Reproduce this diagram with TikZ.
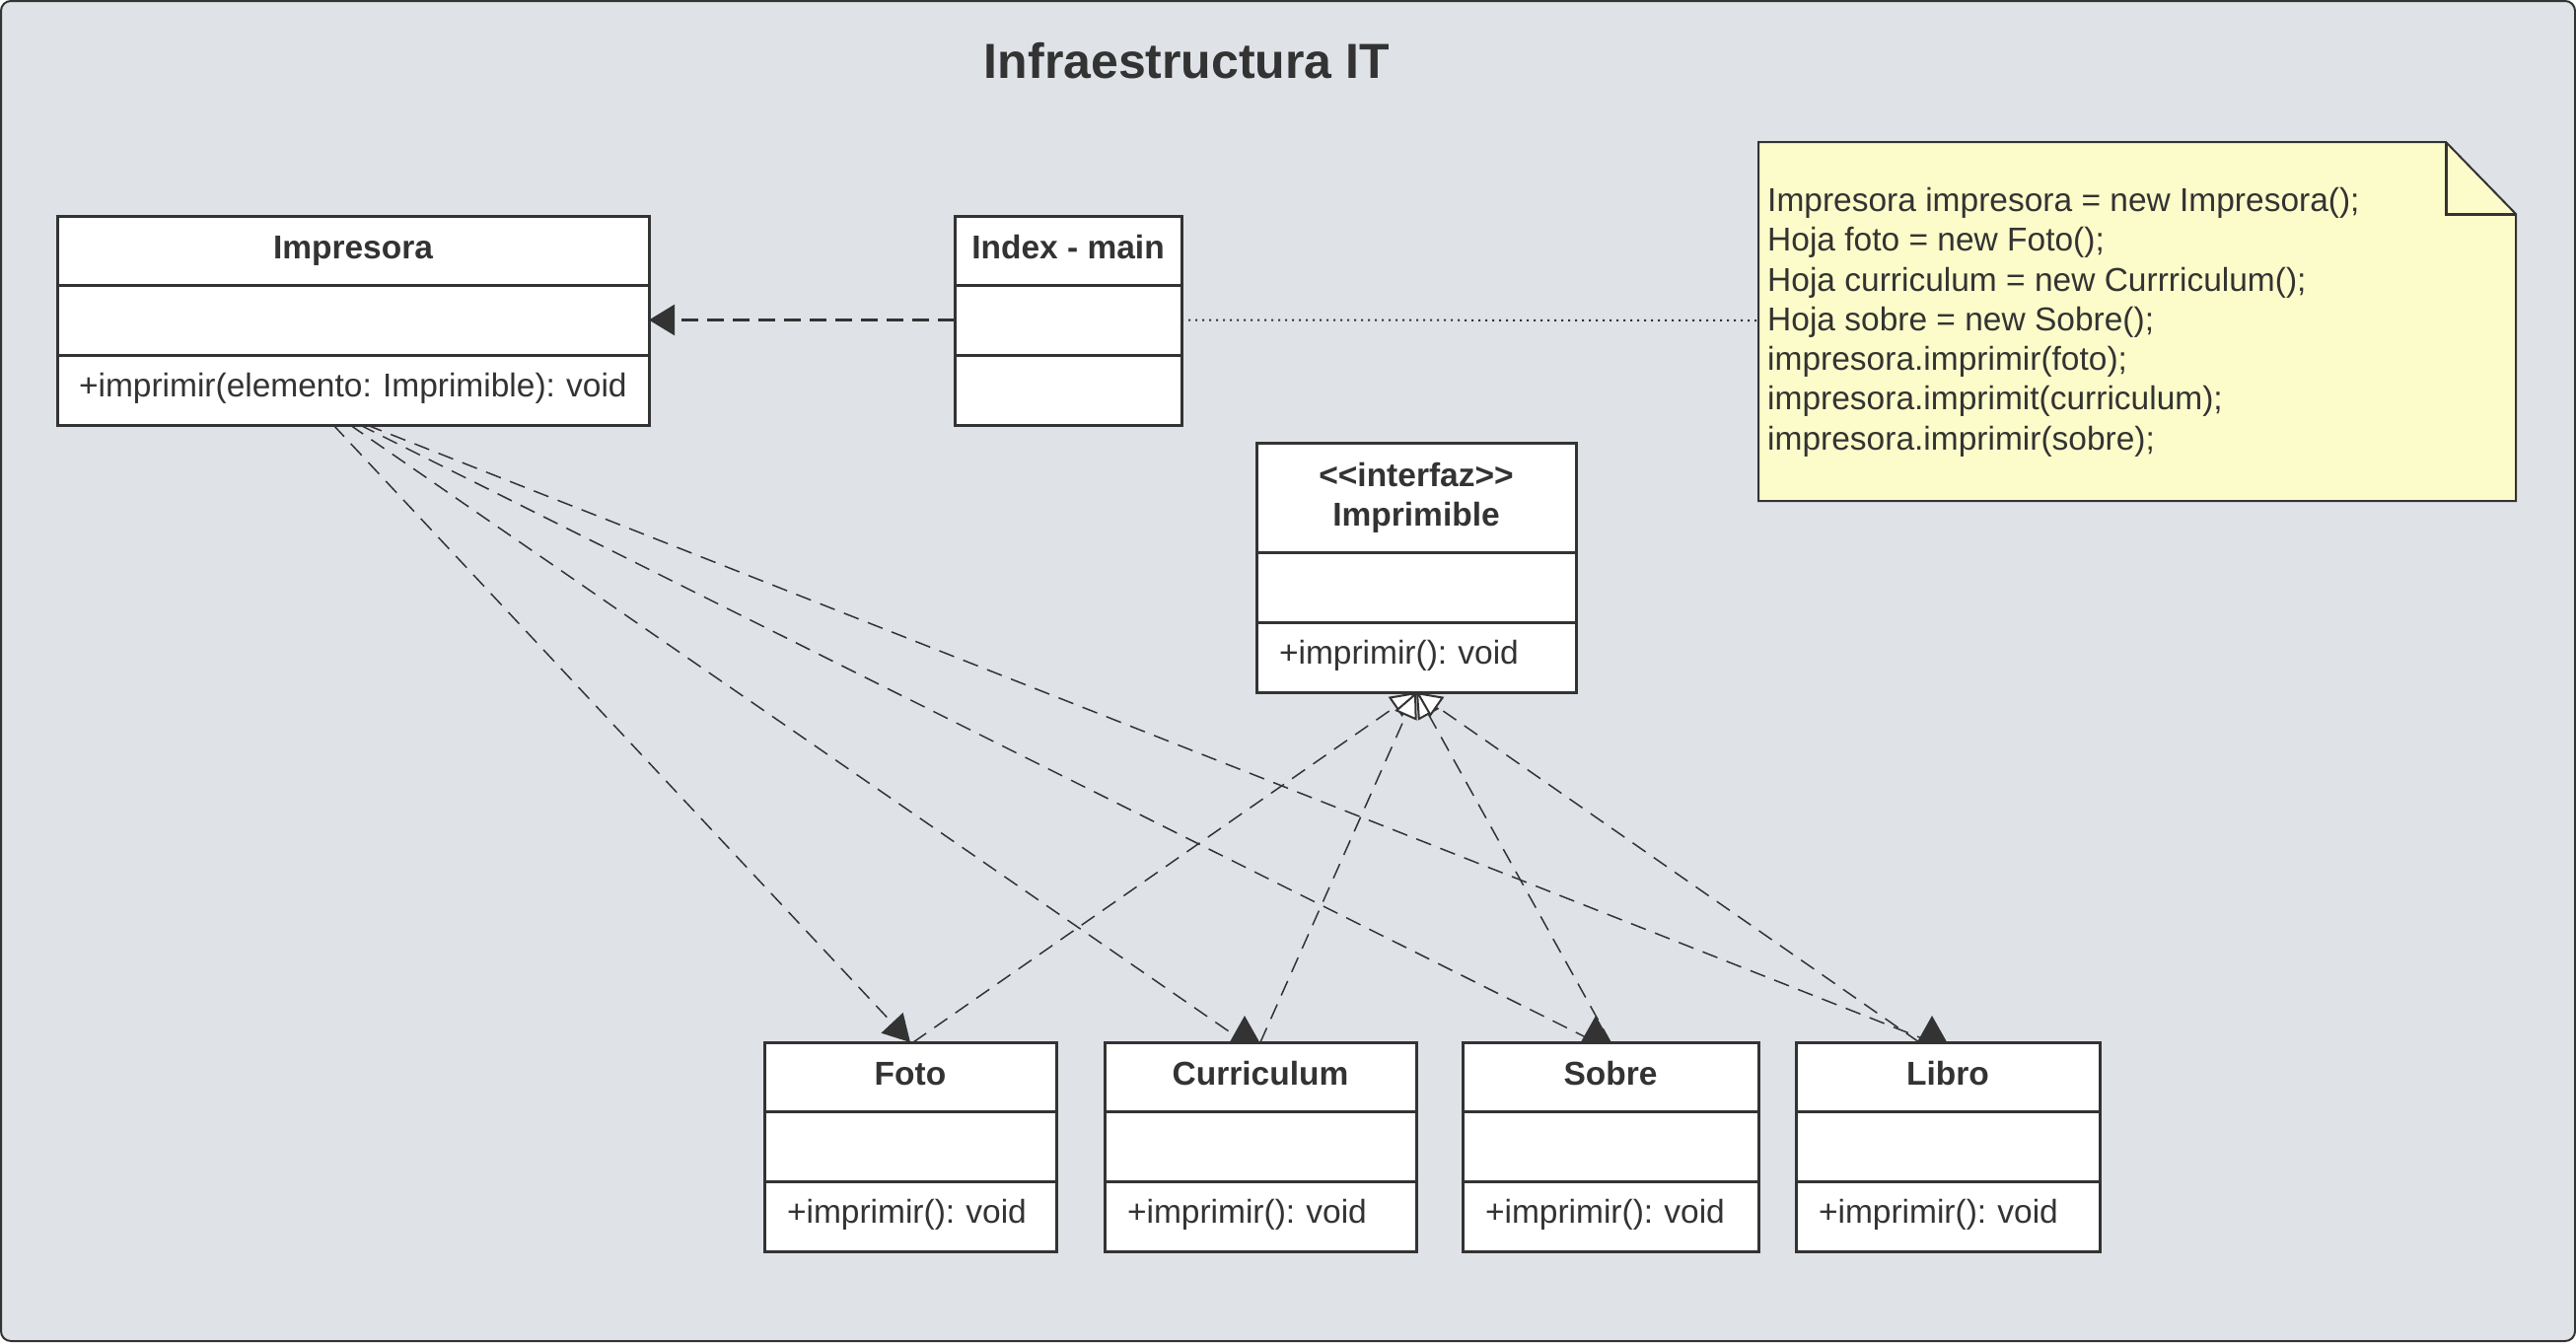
\documentclass[tikz,border=0pt]{standalone}
\usepackage{fontspec}
\usepackage{tikz}
\usetikzlibrary{arrows.meta}
\usetikzlibrary{positioning}

\newfontfamily\lucid{Liberation Sans}
\definecolor{fondo}{RGB}{223,227,232}
\definecolor{linea}{RGB}{51,51,51}
\definecolor{amarillo}{RGB}{252,252,202}

\tikzset{
  head/.style={draw=linea, line width=3pt, fill=white, text=linea, inner sep=0pt, outer sep=0pt,
    font=\lucid\fontsize{33.5}{40}\selectfont\bfseries, align=center,
    text height=24pt, text depth=8pt, minimum height=70pt, minimum width=#1},
  comp/.style={draw=linea, line width=3pt, fill=white, inner sep=0pt, outer sep=0pt,
    minimum height=71pt, minimum width=#1},
  meth/.style={draw=linea, line width=3pt, fill=white, text=linea, inner sep=0pt, outer sep=0pt,
    inner xsep=23pt, font=\lucid\fontsize{33.5}{40}\selectfont\frenchspacing, align=left,
    text height=24pt, text depth=10pt, minimum height=71pt, text width=#1},
  depende/.style={draw=linea, line width=1.5pt, dash pattern=on 16pt off 10pt,
    -{Triangle[length=27pt,width=30pt]}},
  realiza/.style={draw=linea, line width=1.5pt, dash pattern=on 16pt off 10pt,
    -{Triangle[length=26pt,width=24pt,fill=white,line width=2pt]}},
  uso/.style={draw=linea, line width=2.5pt, dash pattern=on 17pt off 9pt,
    -{Triangle[length=26pt,width=31pt]}},
  enlace/.style={draw=linea, line width=2pt, dash pattern=on 2pt off 5pt}
}

\begin{document}
\begin{tikzpicture}[x=1pt,y=1pt,yscale=-1,xscale=1]
    \useasboundingbox (0,0) rectangle (2612,1361);

    %Shape: Container
    \draw[draw=linea, line width=2pt, fill=fondo, rounded corners=10pt] (1,1) rectangle (2611,1360);

    % Text Node
    \node[anchor=base, text=linea, font=\lucid\fontsize{50}{60}\selectfont\bfseries] (titulo) at (1203.5,79) {Infraestructura IT};

    %Shape: Note
    \draw[draw=linea, line width=2pt, fill=amarillo] (1783,144) -- (2480,144) -- (2551,217) -- (2551,508) -- (1783,508) -- cycle;
    \draw[draw=linea, line width=3pt, line join=miter] (2480,144) -- (2480,217) -- (2551,217);
    % Text Node
    \node[anchor=north west, inner sep=0pt, align=left, text=linea, font=\lucid\fontsize{33.5}{40.3}\selectfont\frenchspacing] (nota) at (1792,190) {Impresora impresora = new Impresora();\\Hoja foto = new Foto();\\Hoja curriculum = new Currriculum();\\Hoja sobre = new Sobre();\\impresora.imprimir(foto);\\impresora.imprimit(curriculum);\\impresora.imprimir(sobre);};
    \coordinate (nota-borde) at (1783,325);

    %Class: Impresora
    \node[head=600pt, anchor=north west] (impresora) at (58,219) {Impresora};
    \node[comp=600pt, below=0pt of impresora] (impresora-a) {};
    \node[meth=562pt, inner xsep=19pt, below=0pt of impresora-a] (impresora-m) {\hspace*{3pt}+imprimir(elemento: Imprimible): void};

    %Class: Index - main
    \node[head=230pt, anchor=north west] (index) at (968,219) {Index - main};
    \node[comp=230pt, below=0pt of index] (index-a) {};
    \node[comp=230pt, below=0pt of index-a] (index-m) {};

    %Class: Imprimible
    \node[head=324pt, text height={}, text depth={}, minimum height=111pt, anchor=north west] (imprimible) at (1274,449) {<<interfaz>>\\Imprimible};
    \node[comp=324pt, below=0pt of imprimible] (imprimible-a) {};
    \node[meth=278pt, below=0pt of imprimible-a] (imprimible-m) {+imprimir(): void};

    %Class: Foto
    \node[head=296pt, anchor=north west] (foto) at (775,1057) {Foto};
    \node[comp=296pt, below=0pt of foto] (foto-a) {};
    \node[meth=250pt, below=0pt of foto-a] (foto-m) {+imprimir(): void};

    %Class: Curriculum
    \node[head=316pt, anchor=north west] (curriculum) at (1120,1057) {Curriculum};
    \node[comp=316pt, below=0pt of curriculum] (curriculum-a) {};
    \node[meth=270pt, below=0pt of curriculum-a] (curriculum-m) {+imprimir(): void};

    %Class: Sobre
    \node[head=300pt, anchor=north west] (sobre) at (1483,1057) {Sobre};
    \node[comp=300pt, below=0pt of sobre] (sobre-a) {};
    \node[meth=254pt, below=0pt of sobre-a] (sobre-m) {+imprimir(): void};

    %Class: Libro
    \node[head=308pt, anchor=north west] (libro) at (1821,1057) {Libro};
    \node[comp=308pt, below=0pt of libro] (libro-a) {};
    \node[meth=262pt, below=0pt of libro-a] (libro-m) {+imprimir(): void};

    %Lines: Index - main
    \draw[uso] (index-a.west) -- (impresora-a.east);
    \draw[enlace] (index-a.east) -- (nota-borde);

    %Lines: dependencias de Impresora
    \draw[depende] ([xshift=-20pt]impresora-m.south) -- (foto.north);
    \draw[depende] ([xshift=-3pt]impresora-m.south) -- ([xshift=-16pt]curriculum.north) -- ++(0,-27);
    \draw[depende] ([xshift=7pt]impresora-m.south) -- ([xshift=-15pt]sobre.north) -- ++(0,-27);
    \draw[depende] ([xshift=14pt]impresora-m.south) -- ([xshift=-16pt]libro.north) -- ++(0,-27);

    %Lines: realizaciones de Imprimible
    \draw[realiza] ([xshift=3pt]foto.north) -- (imprimible-m.south);
    \draw[realiza] (curriculum.north) -- (imprimible-m.south);
    \draw[realiza] (sobre.north) -- (imprimible-m.south);
    \draw[realiza] ([xshift=-29pt]libro.north) -- (imprimible-m.south);

\end{tikzpicture}
\end{document}
